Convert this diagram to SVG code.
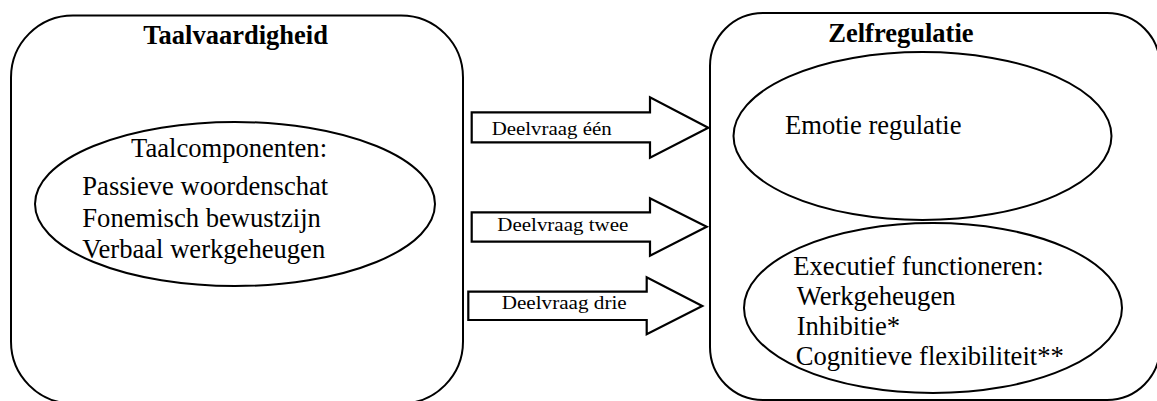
<svg xmlns="http://www.w3.org/2000/svg" width="1157" height="401" viewBox="0 0 1157 401" font-family="'Liberation Serif', serif">
<style>
.box{fill:#fff;stroke:#000;stroke-width:2}
.ell{fill:none;stroke:#000;stroke-width:2}
.arr{fill:#fff;stroke:#000;stroke-width:2.2;stroke-linejoin:miter}
.title{font-family:'Liberation Serif', serif;font-weight:bold;font-size:26.5px;fill:#000}
.txt{font-family:'Liberation Serif', serif;font-weight:normal;font-size:26.6px;fill:#000}
.lbl{font-family:'Liberation Serif', serif;font-weight:normal;font-size:19px;fill:#000}
</style>
<rect width="1157" height="401" fill="#fff"/>
<g id="taalvaardigheid">
<rect class="box" x="11" y="15.5" width="452" height="388" rx="62" ry="62"/>
<text class="title" x="143.3" y="44.3">Taalvaardigheid</text>
</g>
<g id="taalcomponenten">
<ellipse class="ell" cx="235" cy="204" rx="200" ry="82"/>
<text class="txt" x="131" y="156.7">Taalcomponenten:</text>
<text class="txt" x="82.3" y="195">Passieve woordenschat</text>
<text class="txt" x="82.3" y="226.7">Fonemisch bewustzijn</text>
<text class="txt" x="82.3" y="257.7">Verbaal werkgeheugen</text>
</g>
<g id="zelfregulatie">
<rect class="box" x="710" y="13" width="450" height="387" rx="53" ry="53"/>
<text class="title" x="828.3" y="41.7">Zelfregulatie</text>
</g>
<g id="emotie">
<ellipse class="ell" cx="922.5" cy="136" rx="189" ry="84"/>
<text class="txt" x="785" y="134.3">Emotie regulatie</text>
</g>
<g id="executief">
<ellipse class="ell" cx="933" cy="308" rx="189" ry="85"/>
<text class="txt" x="793.3" y="275">Executief functioneren:</text>
<text class="txt" x="796.7" y="305">Werkgeheugen</text>
<text class="txt" x="796.7" y="335">Inhibitie*</text>
<text class="txt" x="795.7" y="365">Cognitieve flexibiliteit**</text>
</g>
<g id="connectors">
<g id="arrow1">
<polygon class="arr" points="471.7,112.3 650,112.3 650,97.3 708.3,127.7 650,157.7 650,142.3 471.7,142.3"/>
<text class="lbl" x="491.7" y="135" textLength="120" lengthAdjust="spacingAndGlyphs">Deelvraag één</text>
</g>
<g id="arrow2">
<polygon class="arr" points="471.7,212.3 650,212.3 650,198.3 706.7,226.7 650,255.7 650,241.7 471.7,241.7"/>
<text class="lbl" x="497.3" y="231" textLength="131" lengthAdjust="spacingAndGlyphs">Deelvraag twee</text>
</g>
<g id="arrow3">
<polygon class="arr" points="468.3,291.7 646.7,291.7 646.7,277.3 702.3,306 646.7,334.3 646.7,320 468.3,320"/>
<text class="lbl" x="501.7" y="309.3" textLength="125" lengthAdjust="spacingAndGlyphs">Deelvraag drie</text>
</g>
</g>
</svg>
